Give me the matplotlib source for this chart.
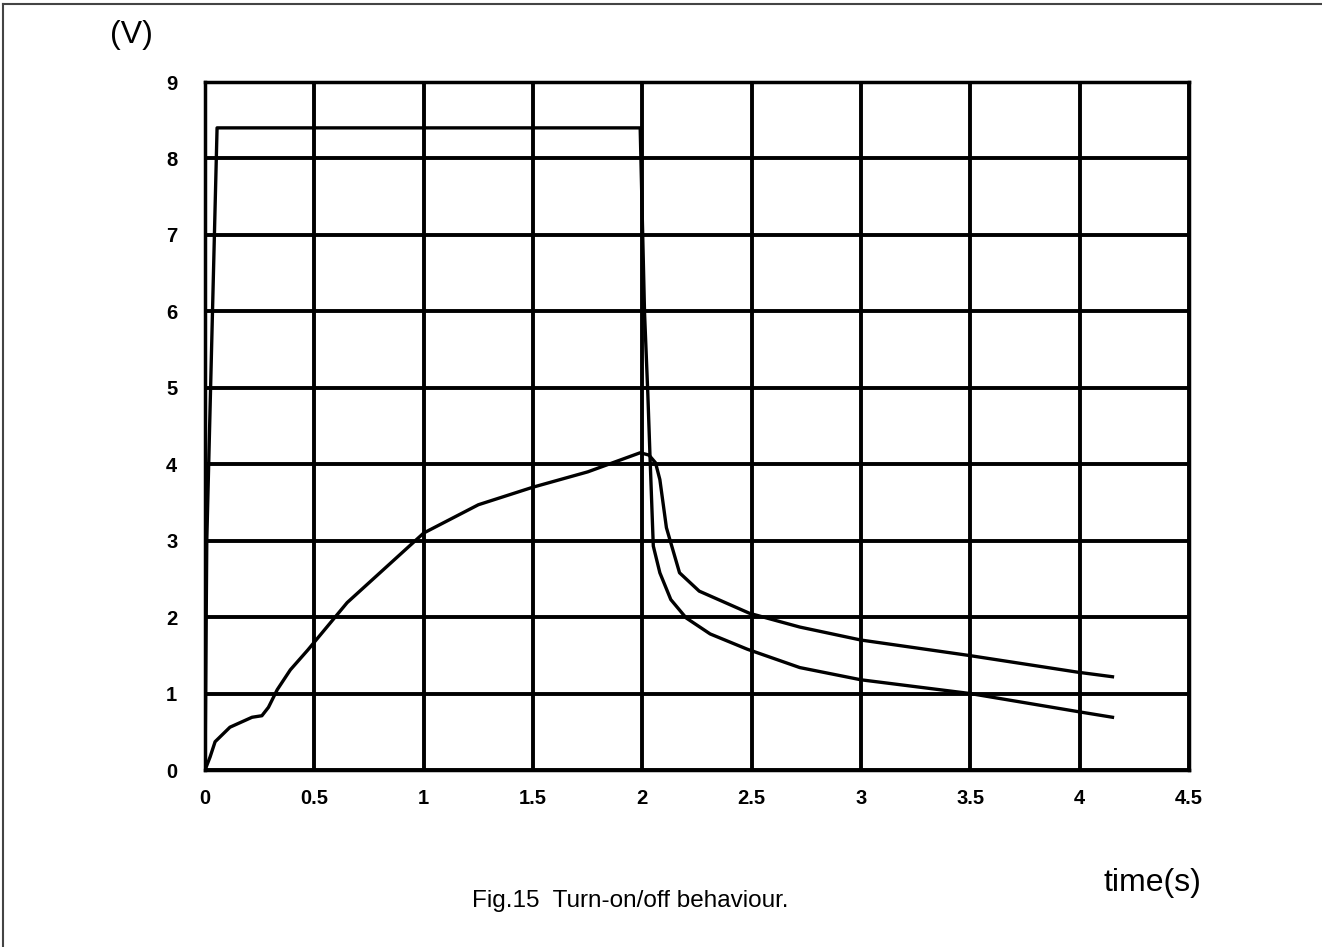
import matplotlib
matplotlib.use('Agg')
import matplotlib.pyplot as plt
from matplotlib.lines import Line2D

# rising output curve, then decay after switch-off
curve_a_t = [0.0, 0.023, 0.046, 0.114, 0.215, 0.26, 0.29, 0.33, 0.39, 0.47, 0.65,
             1.0, 1.25, 1.5, 1.75, 1.99, 2.03, 2.06, 2.08, 2.11, 2.17, 2.26, 2.49,
             2.72, 3.0, 3.49, 3.99, 4.15]
curve_a_v = [0.0, 0.17, 0.37, 0.56, 0.69, 0.71, 0.82, 1.05, 1.31, 1.57, 2.19,
             3.1, 3.47, 3.7, 3.9, 4.15, 4.12, 4.02, 3.8, 3.17, 2.58, 2.34, 2.05,
             1.87, 1.70, 1.5, 1.28, 1.22]

# supply step (on at 0, off at ~2 s)
curve_b_t = [0.0, 0.008, 0.055, 1.99, 2.01, 2.025, 2.035, 2.05, 2.08, 2.13, 2.2,
             2.31, 2.48, 2.72, 3.0, 3.5, 4.0, 4.15]
curve_b_v = [0.0, 3.0, 8.4, 8.4, 5.98, 4.92, 4.1, 2.93, 2.58, 2.23, 1.99,
             1.78, 1.58, 1.34, 1.18, 1.0, 0.76, 0.69]

x_ticks = [0, 0.5, 1, 1.5, 2, 2.5, 3, 3.5, 4, 4.5]
x_labels = ['0', '0.5', '1', '1.5', '2', '2.5', '3', '3.5', '4', '4.5']
y_ticks = list(range(0, 10))

plt.rcParams['font.family'] = ['Liberation Sans', 'DejaVu Sans']

fig = plt.figure(figsize=(13.22, 9.47), dpi=100)
ax = fig.add_axes([0.1551, 0.1869, 0.7443, 0.7265])

ax.plot(curve_a_t, curve_a_v, color='black', linewidth=2.4, zorder=3)
ax.plot(curve_b_t, curve_b_v, color='black', linewidth=2.4, zorder=3)

ax.set_xlim(0, 4.5)
ax.set_ylim(0, 9)
ax.set_xticks(x_ticks)
ax.set_xticklabels(x_labels)
ax.set_yticks(y_ticks)
ax.grid(True, color='black', linewidth=2.8, zorder=1)
ax.set_axisbelow(True)
for sp in ax.spines.values():
    sp.set_linewidth(2.5)
ax.tick_params(length=0, labelsize=14.5)
ax.tick_params(axis='x', pad=14)
ax.tick_params(axis='y', pad=20)
for lbl in ax.get_xticklabels() + ax.get_yticklabels():
    lbl.set_fontweight('bold')

fig.text(131 / 1322, 1 - 35 / 947, '(V)', fontsize=23, ha='center', va='center')
fig.text(1152 / 1322, 1 - 883 / 947, 'time(s)', fontsize=23, ha='center', va='center')
fig.text(630 / 1322, 1 - 901 / 947, 'Fig.15  Turn-on/off behaviour.', fontsize=17.5,
         ha='center', va='center')

# outer figure border (left and top visible)
fig.add_artist(Line2D([2.5 / 1322, 2.5 / 1322], [0, 1 - 4 / 947], color='#444444',
                      linewidth=1.5, transform=fig.transFigure))
fig.add_artist(Line2D([2.5 / 1322, 1], [1 - 4 / 947, 1 - 4 / 947], color='#444444',
                      linewidth=1.5, transform=fig.transFigure))

fig.savefig('out.png', dpi=100, facecolor='white')
